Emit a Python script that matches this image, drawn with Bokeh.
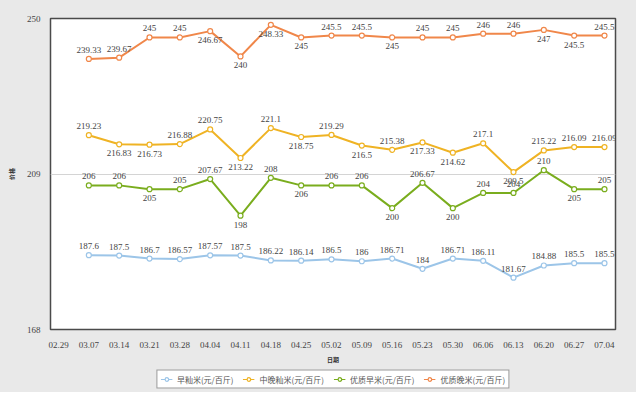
from bokeh.plotting import figure
from bokeh.layouts import column
from bokeh.models import (ColumnDataSource, FixedTicker, Range1d, Legend, LegendItem)
from bokeh.core.properties import value
from bokeh.embed import file_html
from bokeh.resources import INLINE

categories = ["02.29", "03.07", "03.14", "03.21", "03.28", "04.04", "04.11", "04.18", "04.25",
              "05.02", "05.09", "05.16", "05.23", "05.30", "06.06", "06.13", "06.20", "06.27", "07.04"]
data_dates = categories[1:]

early_indica = [187.6, 187.5, 186.7, 186.57, 187.57, 187.5, 186.22, 186.14, 186.5, 186,
                186.71, 184, 186.71, 186.11, 181.67, 184.88, 185.5, 185.5]
mid_late_indica = [219.23, 216.83, 216.73, 216.88, 220.75, 213.22, 221.1, 218.75, 219.29, 216.5,
                   215.38, 217.33, 214.62, 217.1, 209.5, 215.22, 216.09, 216.09]
quality_early = [206, 206, 205, 205, 207.67, 198, 208, 206, 206, 206,
                 200, 206.67, 200, 204, 204, 210, 205, 205]
quality_late = [239.33, 239.67, 245, 245, 246.67, 240, 248.33, 245, 245.5, 245.5,
                245, 245, 245, 246, 246, 247, 245.5, 245.5]

series_names = ["早籼米(元/百斤)", "中晚籼米(元/百斤)", "优质早米(元/百斤)", "优质晚米(元/百斤)"]
y_ticks = [168, 209, 250]

# label placement per point: a = above, b = below (style)
placements = [
    "aaaaaaaaaaaaaaaaaa",
    "abbaababababbabaaa",
    "aabaababaababaaaba",
    "aaaabbbbaabaaaabba",
]
colors = ["#9cc5e8", "#efb324", "#7aad1e", "#f0874a"]
series = [early_indica, mid_late_indica, quality_early, quality_late]
BG = "#e9e9e9"

xs = [categories.index(d) for d in data_dates]

p = figure(width=636, height=366, output_backend="svg", toolbar_location=None,
           x_range=Range1d(-0.264, 18.363), y_range=Range1d(168, 250),
           min_border_left=50, min_border_right=21, min_border_top=18, min_border_bottom=29)
p.border_fill_color = BG
p.background_fill_color = "white"
p.outline_line_color = "#4a4a4a"
p.outline_line_width = 1.5

p.xaxis.ticker = FixedTicker(ticks=list(range(len(categories))))
p.xaxis.major_label_overrides = {i: c for i, c in enumerate(categories)}
p.yaxis.ticker = FixedTicker(ticks=y_ticks)
for ax in (p.xaxis[0], p.yaxis[0]):
    ax.axis_line_color = None
    ax.major_tick_line_color = None
    ax.minor_tick_line_color = None
    ax.major_label_text_font = "Liberation Serif"
    ax.major_label_text_font_size = "9px"
    ax.major_label_text_color = "#444444"
    ax.axis_label_text_font = "Noto Sans CJK SC"
    ax.axis_label_text_font_size = "6px"
    ax.axis_label_text_font_style = "bold"
    ax.axis_label_text_color = "#333333"
p.xaxis.major_label_standoff = 6
p.yaxis.major_label_standoff = 4
p.xaxis.axis_label = "日期"
p.xaxis.axis_label_standoff = 4
p.yaxis.axis_label = "价格"
p.yaxis.axis_label_standoff = 8
p.xgrid.grid_line_color = None
p.ygrid.grid_line_color = "#d4d4d4"
p.ygrid.grid_line_width = 1

# legend figure below the chart
lf = figure(width=636, height=26, output_backend="svg", toolbar_location=None,
            x_axis_location=None, y_axis_location=None, min_border=0,
            x_range=Range1d(0, 1), y_range=Range1d(0, 1))
lf.border_fill_color = BG
lf.background_fill_color = BG
lf.outline_line_color = None
lf.xgrid.grid_line_color = None
lf.ygrid.grid_line_color = None

items = []
for name, vals, col, plc in zip(series_names, series, colors, placements):
    offs = [-9 if c == "a" else 9 for c in plc]
    src = ColumnDataSource(dict(x=xs, y=vals, t=[f"{v:g}" for v in vals], off=offs))
    p.line("x", "y", source=src, line_color=col, line_width=2)
    p.scatter("x", "y", source=src, size=5, marker="circle", fill_color="white",
              line_color=col, line_width=1.2)
    p.text("x", "y", text="t", source=src, y_offset="off", text_align="center",
           text_baseline="middle", text_font=value("Liberation Serif"), text_font_size="9px",
           text_color="#444444")
    # off-screen proxy renderers so the legend can draw line+marker glyphs
    proxy = ColumnDataSource(dict(x=[-5, -4], y=[-5, -5]))
    ln = lf.line("x", "y", source=proxy, line_color=col, line_width=1.2)
    sc = lf.scatter("x", "y", source=proxy, size=5, marker="circle", fill_color="white",
                    line_color=col, line_width=1.2)
    items.append(LegendItem(label=name, renderers=[ln, sc]))

legend = Legend(items=items, orientation="horizontal", location="center",
                border_line_color="#333333", border_line_width=1,
                background_fill_color="white", background_fill_alpha=1,
                label_text_font="Noto Sans CJK SC", label_text_font_size="8px",
                label_text_color="#555555", glyph_width=12, glyph_height=9,
                label_height=9, label_standoff=5, spacing=9, padding=3, margin=0)
lf.add_layout(legend, "center")

layout = column(p, lf, spacing=0, styles={"background-color": BG})
open("out.html", "w").write(file_html(layout, INLINE))
